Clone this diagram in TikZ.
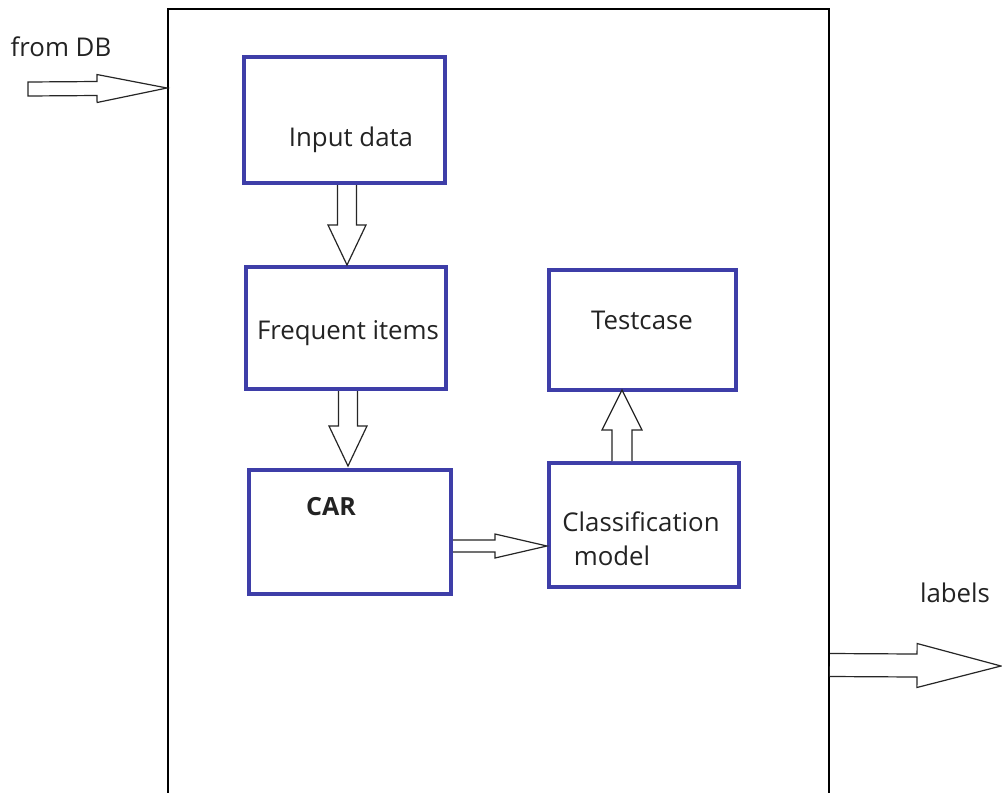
\documentclass[tikz,border=0pt]{standalone}
\usepackage{fontspec}
\setmainfont{Open Sans}
\usetikzlibrary{calc}
\definecolor{boxblue}{RGB}{62,62,168}
\definecolor{txt}{RGB}{35,35,35}
\newcommand{\blockarr}[5]{%
  \coordinate (ba-h) at ($(#2)!#5!(#1)$);
  \draw[blockarrow] ($(#1)!#3!90:(#2)$) -- ($(ba-h)!#3!90:(#2)$) -- ($(ba-h)!#4!90:(#2)$) -- (#2) -- ($(ba-h)!#4!-90:(#2)$) -- ($(ba-h)!#3!-90:(#2)$) -- ($(#1)!#3!-90:(#2)$);
}
\newcommand{\blockarrclosed}[5]{%
  \coordinate (ba-h) at ($(#2)!#5!(#1)$);
  \draw[blockarrow] ($(#1)!#3!90:(#2)$) -- ($(ba-h)!#3!90:(#2)$) -- ($(ba-h)!#4!90:(#2)$) -- (#2) -- ($(ba-h)!#4!-90:(#2)$) -- ($(ba-h)!#3!-90:(#2)$) -- ($(#1)!#3!-90:(#2)$) -- cycle;
}
\tikzset{
  bluebox/.style={draw=boxblue, line width=4pt, fill=white, inner sep=0pt, anchor=center},
  frame/.style={draw=black, line width=2pt, inner sep=0pt},
  blockarrow/.style={draw=black!85, line width=1.2pt, fill=white, line join=miter},
  lbl/.style={text=txt, font=\fontsize{25.8}{30}\selectfont, inner sep=0pt, anchor=center},
}
\begin{document}
\begin{tikzpicture}[x=1pt,y=-1pt]
\clip (0,0) rectangle (1002,793);
\fill[white] (0,0) rectangle (1002,793);
% outer frame (open at the bottom edge of the picture)
\node[frame, minimum width=661pt, minimum height=820pt] (frame) at (498.5,419) {};
% inner boxes
\node[bluebox, minimum width=201pt, minimum height=126pt] (inp) at (344.5,120) {};
\node[bluebox, minimum width=200pt, minimum height=122pt] (freq) at (346,328) {};
\node[bluebox, minimum width=202pt, minimum height=124pt] (car) at (350,532) {};
\node[bluebox, minimum width=187pt, minimum height=120pt] (test) at (642.5,330) {};
\node[bluebox, minimum width=190pt, minimum height=124pt] (cls) at (644,525) {};
% texts
\node[lbl] (inptxt) at (351,140) {Input data};
\node[lbl] (freqtxt) at (348,333) {Frequent items};
\node[lbl, font=\fontsize{25}{30}\selectfont\bfseries] (cartxt) at (331,507) {CAR};
\node[lbl] (testtxt) at (642,320) {Testcase};
\node[lbl] (clstxt1) at (641,522) {Classification};
\node[lbl] (clstxt2) at (612,556) {model};
\node[lbl] (fromdb) at (61,47) {from DB};
\node[lbl] (labels) at (955,593) {labels};
% block arrows
\coordinate (dbtail) at (28,89);
\coordinate (dbtip) at ($(frame.north west)+(0,80)$);
\blockarrclosed{dbtail}{dbtip}{7pt}{14pt}{70pt}
\coordinate (a1s) at ($(inp.south)+(2.5,0)$);
\coordinate (a1t) at (a1s |- freq.north);
\blockarr{a1s}{a1t}{9.5pt}{19pt}{40pt}
\coordinate (a2s) at ($(freq.south)+(2,0)$);
\coordinate (a2t) at ($(a2s |- car.north)+(0,-2)$);
\blockarr{a2s}{a2t}{9.5pt}{19pt}{40pt}
\coordinate (a3s) at ($(cls.north)+(-22,0)$);
\coordinate (a3t) at ($(a3s |- test.south)+(0,-2)$);
\blockarr{a3s}{a3t}{10pt}{20pt}{40pt}
\coordinate (a4s) at ($(car.east)+(0,14)$);
\coordinate (a4t) at (a4s -| cls.west);
\blockarr{a4s}{a4t}{6pt}{12pt}{52pt}
\coordinate (a5s) at ($(frame.north east)+(0,657)$);
\coordinate (a5t) at (1001,666);
\blockarr{a5s}{a5t}{11.5pt}{22pt}{84pt}
\end{tikzpicture}
\end{document}
